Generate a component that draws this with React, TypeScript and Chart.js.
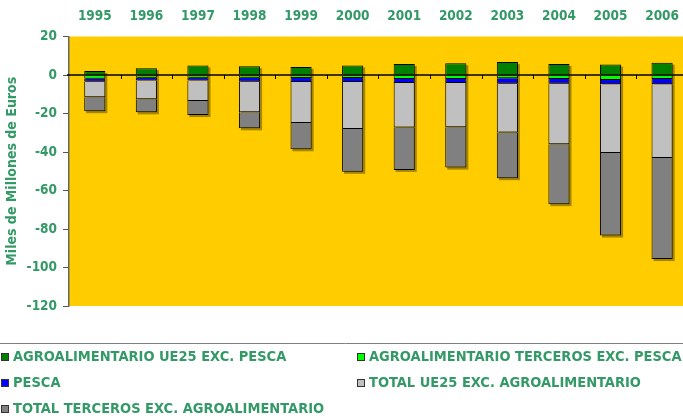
import React, { useEffect, useRef } from "react";
import { Chart, registerables } from "chart.js";

Chart.register(...registerables);

const years = ["1995", "1996", "1997", "1998", "1999", "2000", "2001", "2002", "2003", "2004", "2005", "2006"];
const agroUE25 = [2.1, 3.5, 5.0, 4.5, 4.2, 5.0, 5.7, 6.1, 6.7, 5.7, 5.4, 6.4];
const agroTerceros = [-2.0, -1.4, -1.4, -1.4, -1.5, -1.5, -2.1, -2.1, -1.7, -2.1, -2.6, -2.1];
const pesca = [-1.5, -1.5, -1.5, -2.1, -2.1, -2.1, -2.1, -2.1, -2.8, -2.4, -2.2, -2.7];
const totalUE25 = [-8.1, -9.7, -10.6, -15.9, -21.3, -24.4, -23.1, -23.0, -25.4, -31.5, -35.7, -38.3];
const totalTerceros = [-7.2, -6.8, -7.3, -8.3, -13.7, -22.3, -22.0, -20.9, -23.7, -31.1, -42.9, -52.5];

const seriesNames = [
  "AGROALIMENTARIO UE25 EXC. PESCA",
  "AGROALIMENTARIO TERCEROS EXC. PESCA",
  "PESCA",
  "TOTAL UE25 EXC. AGROALIMENTARIO",
  "TOTAL TERCEROS EXC. AGROALIMENTARIO",
];
const seriesColors = ["#008000", "#00FF00", "#0000FF", "#C0C0C0", "#808080"];
const yAxisTitle = "Miles de Millones de Euros";
const yMin = -120;
const yMax = 20;
const yStep = 20;

const TEXT = "#339966";
const FONT = "'DejaVu Sans Condensed', 'DejaVu Sans', sans-serif";

const plotBg = {
  id: "plotBg",
  beforeDraw(chart: any) {
    const { ctx, chartArea: a } = chart;
    ctx.save();
    ctx.fillStyle = "#FFCC00";
    ctx.fillRect(a.left, a.top, a.right - a.left, a.bottom - a.top);
    ctx.restore();
  },
  beforeDatasetsDraw(chart: any) {
    const { ctx } = chart;
    const n = chart.data.labels.length;
    const metas = chart.data.datasets.map((_: any, i: number) => chart.getDatasetMeta(i));
    ctx.save();
    ctx.fillStyle = "rgba(0,0,0,0.35)";
    for (let j = 0; j < n; j++) {
      let top = Infinity, bottom = -Infinity, left = 0, right = 0;
      metas.forEach((m: any) => {
        const el = m.data[j];
        if (!el) return;
        const p = el.getProps(["x", "y", "base", "width"], true);
        top = Math.min(top, p.y, p.base);
        bottom = Math.max(bottom, p.y, p.base);
        left = p.x - p.width / 2;
        right = p.x + p.width / 2;
      });
      ctx.fillRect(left + 2, top + 2, right - left, bottom - top);
    }
    ctx.restore();
  },
  afterDatasetsDraw(chart: any) {
    const { ctx, chartArea: a, scales } = chart;
    const y0 = scales.y.getPixelForValue(0);
    ctx.save();
    ctx.strokeStyle = "#000";
    ctx.lineWidth = 1.5;
    ctx.beginPath();
    ctx.moveTo(a.left - 2, y0);
    ctx.lineTo(a.right, y0);
    ctx.stroke();
    const n = chart.data.labels.length;
    const w = (a.right - a.left) / n;
    ctx.lineWidth = 1;
    for (let i = 1; i < n; i++) {
      const x = Math.round(a.left + i * w) + 0.5;
      ctx.beginPath();
      ctx.moveTo(x, y0);
      ctx.lineTo(x, y0 + 4);
      ctx.stroke();
    }
    ctx.restore();
  },
  afterDraw(chart: any) {
    const { ctx } = chart;
    ctx.save();
    ctx.strokeStyle = "#808080";
    ctx.lineWidth = 1;
    ctx.beginPath();
    ctx.moveTo(0, 343.5);
    ctx.lineTo(chart.width, 343.5);
    ctx.stroke();
    ctx.font = `bold 14.5px ${FONT}`;
    ctx.textBaseline = "middle";
    const rows = [357, 383, 409];
    const cols = [1, 357];
    seriesNames.forEach((name, i) => {
      const col = cols[i % 2];
      const row = rows[Math.floor(i / 2)];
      ctx.fillStyle = seriesColors[i];
      ctx.fillRect(col, row - 4, 8, 8);
      ctx.strokeStyle = "#333";
      ctx.strokeRect(col + 0.5, row - 4 + 0.5, 7, 7);
      ctx.fillStyle = TEXT;
      ctx.fillText(name, col + 12, row);
    });
    ctx.restore();
  },
};

export default function App() {
  const ref = useRef<HTMLCanvasElement>(null);
  useEffect(() => {
    if (!ref.current) return;
    const series = [agroUE25, agroTerceros, pesca, totalUE25, totalTerceros];
    const chart = new Chart(ref.current, {
      type: "bar",
      data: {
        labels: years,
        datasets: series.map((d, i) => ({
          label: seriesNames[i],
          data: d,
          backgroundColor: seriesColors[i],
          borderColor: "#000",
          borderWidth: 1,
          barPercentage: 0.41,
          categoryPercentage: 1,
        })),
      },
      options: {
        responsive: false,
        animation: false,
        layout: { padding: { left: 0, top: 0, right: 0, bottom: 112 } },
        plugins: { legend: { display: false }, tooltip: { enabled: false } },
        scales: {
          x: {
            position: "top",
            stacked: true,
            grid: { display: false, drawTicks: false },
            border: { display: false },
            ticks: { color: TEXT, font: { family: FONT, size: 13.5, weight: "bold" }, padding: 12, maxRotation: 0 },
            afterFit: (s: any) => { s.height = 36.5; },
          },
          y: {
            stacked: true,
            min: yMin,
            max: yMax,
            ticks: { stepSize: yStep, color: TEXT, font: { family: FONT, size: 13.5, weight: "bold" }, padding: 6 },
            grid: { drawOnChartArea: false, tickLength: 6, color: "#555" },
            border: { color: "#666", width: 1.5 },
            title: {
              display: true,
              text: yAxisTitle,
              color: TEXT,
              font: { family: FONT, size: 14, weight: "bold" },
              padding: { top: 4, bottom: 0 },
            },
            afterFit: (s: any) => { s.width = 69; },
          },
        },
      },
      plugins: [plotBg],
    });
    return () => chart.destroy();
  }, []);
  return (
    <div style={{ position: "fixed", left: 0, top: 0, width: 683, height: 418, overflow: "hidden", background: "#fff" }}>
      <canvas ref={ref} width={691} height={418} style={{ display: "block" }} />
    </div>
  );
}
